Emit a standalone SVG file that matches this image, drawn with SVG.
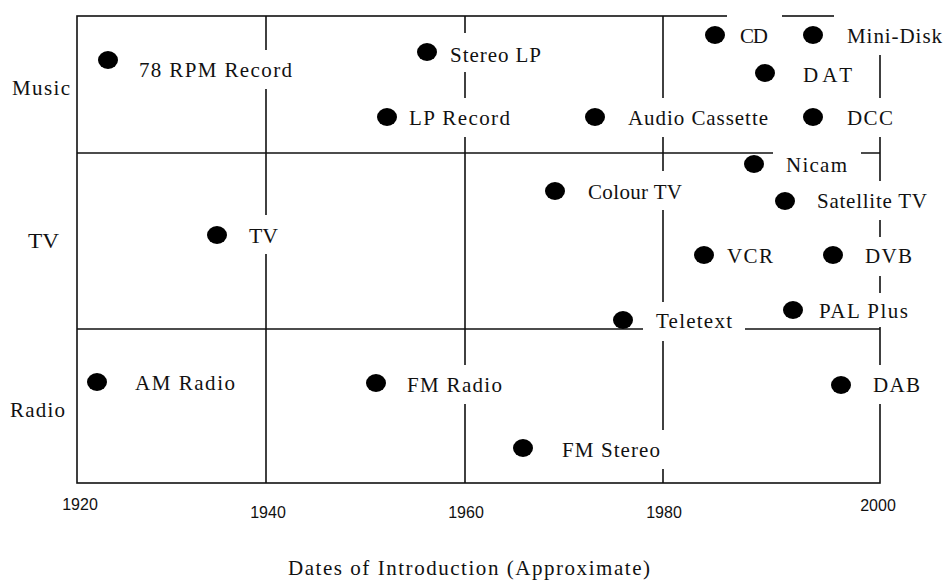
<svg xmlns="http://www.w3.org/2000/svg" width="945" height="582" viewBox="0 0 945 582">
<style>
.grid{stroke:#111;stroke-width:1.6;fill:none}
.box{fill:#fff;stroke:none}
.dot{fill:#000}
.lbl{font-family:"Liberation Serif","Times New Roman",serif;font-size:21px;fill:#111}
.yr{font-family:"Liberation Sans",Arial,sans-serif;font-size:16px;fill:#111}
.ttl{font-family:"Liberation Serif","Times New Roman",serif;font-size:21px;fill:#111}
</style>
<rect width="945" height="582" fill="#fff"/>
<g id="grid" class="grid">
<rect x="77" y="16" width="803" height="467"/>
<line x1="77" y1="153" x2="880" y2="153"/>
<line x1="77" y1="329" x2="880" y2="329"/>
<line x1="266" y1="16" x2="266" y2="483"/>
<line x1="465" y1="16" x2="465" y2="483"/>
<line x1="663" y1="16" x2="663" y2="483"/>
</g>
<g id="rows" class="lbl">
<text x="12" y="95" textLength="58" lengthAdjust="spacing">Music</text>
<text x="28" y="248" textLength="31" lengthAdjust="spacingAndGlyphs">TV</text>
<text x="10" y="417" textLength="55" lengthAdjust="spacing">Radio</text>
</g>
<g id="axis" class="yr">
<text x="80" y="510" text-anchor="middle">1920</text>
<text x="268" y="518" text-anchor="middle">1940</text>
<text x="466" y="518" text-anchor="middle">1960</text>
<text x="664" y="518" text-anchor="middle">1980</text>
<text x="878" y="511" text-anchor="middle">2000</text>
</g>
<text id="title" class="ttl" x="288" y="575" textLength="362" lengthAdjust="spacing">Dates of Introduction (Approximate)</text>

<g id="n78rpm"><rect class="box" x="126" y="50" width="179" height="39"/><text class="lbl" x="139" y="77" textLength="153" lengthAdjust="spacing">78 RPM Record</text><ellipse class="dot" cx="108" cy="60" rx="10" ry="9"/></g>
<g id="stereolp"><rect class="box" x="437" y="33" width="117" height="39"/><text class="lbl" x="450" y="62" textLength="91" lengthAdjust="spacing">Stereo LP</text><ellipse class="dot" cx="427" cy="52" rx="10" ry="9"/></g>
<g id="lprecord"><rect class="box" x="396" y="98" width="127" height="39"/><text class="lbl" x="409" y="125" textLength="101" lengthAdjust="spacing">LP Record</text><ellipse class="dot" cx="387" cy="117" rx="10" ry="9"/></g>
<g id="audiocassette"><rect class="box" x="615" y="98" width="166" height="39"/><text class="lbl" x="628" y="125" textLength="140" lengthAdjust="spacing">Audio Cassette</text><ellipse class="dot" cx="595" cy="117" rx="10" ry="9"/></g>
<g id="cd"><rect class="box" x="727" y="15" width="55" height="40"/><text class="lbl" x="740" y="43" textLength="28" lengthAdjust="spacing">CD</text><ellipse class="dot" cx="715" cy="35" rx="10" ry="9"/></g>
<g id="minidisk"><rect class="box" x="834" y="15" width="111" height="40"/><text class="lbl" x="847" y="43" textLength="95" lengthAdjust="spacing">Mini-Disk</text><ellipse class="dot" cx="813" cy="35" rx="10" ry="9"/></g>
<g id="dat"><rect class="box" x="790" y="55" width="75" height="39"/><text class="lbl" x="803" y="82" textLength="49" lengthAdjust="spacing">DAT</text><ellipse class="dot" cx="765" cy="73" rx="10" ry="9"/></g>
<g id="dcc"><rect class="box" x="834" y="98" width="72" height="39"/><text class="lbl" x="847" y="125" textLength="46" lengthAdjust="spacing">DCC</text><ellipse class="dot" cx="813" cy="117" rx="10" ry="9"/></g>
<g id="nicam"><rect class="box" x="773" y="145" width="88" height="39"/><text class="lbl" x="786" y="172" textLength="61" lengthAdjust="spacing">Nicam</text><ellipse class="dot" cx="754" cy="164" rx="10" ry="9"/></g>
<g id="colourtv"><rect class="box" x="575" y="171" width="120" height="39"/><text class="lbl" x="588" y="199" textLength="94" lengthAdjust="spacing">Colour TV</text><ellipse class="dot" cx="555" cy="191" rx="10" ry="9"/></g>
<g id="satellitetv"><rect class="box" x="804" y="181" width="136" height="39"/><text class="lbl" x="817" y="208" textLength="110" lengthAdjust="spacing">Satellite TV</text><ellipse class="dot" cx="785" cy="201" rx="10" ry="9"/></g>
<g id="tv"><rect class="box" x="236" y="215" width="55" height="39"/><text class="lbl" x="249" y="243" textLength="29" lengthAdjust="spacingAndGlyphs">TV</text><ellipse class="dot" cx="217" cy="235" rx="10" ry="9"/></g>
<g id="vcr"><rect class="box" x="714" y="236" width="72" height="39"/><text class="lbl" x="727" y="263" textLength="46" lengthAdjust="spacing">VCR</text><ellipse class="dot" cx="704" cy="255" rx="10" ry="9"/></g>
<g id="dvb"><rect class="box" x="852" y="237" width="73" height="39"/><text class="lbl" x="865" y="263" textLength="47" lengthAdjust="spacing">DVB</text><ellipse class="dot" cx="833" cy="255" rx="10" ry="9"/></g>
<g id="palplus"><rect class="box" x="806" y="293" width="115" height="34"/><text class="lbl" x="819" y="318" textLength="89" lengthAdjust="spacing">PAL Plus</text><ellipse class="dot" cx="793" cy="310" rx="10" ry="9"/></g>
<g id="teletext"><rect class="box" x="643" y="302" width="102" height="39"/><text class="lbl" x="656" y="328" textLength="76" lengthAdjust="spacing">Teletext</text><ellipse class="dot" cx="623" cy="320" rx="10" ry="9"/></g>
<g id="amradio"><rect class="box" x="122" y="364" width="126" height="39"/><text class="lbl" x="135" y="390" textLength="100" lengthAdjust="spacing">AM Radio</text><ellipse class="dot" cx="97" cy="382" rx="10" ry="9"/></g>
<g id="fmradio"><rect class="box" x="394" y="365" width="121" height="39"/><text class="lbl" x="407" y="392" textLength="95" lengthAdjust="spacing">FM Radio</text><ellipse class="dot" cx="376" cy="383" rx="10" ry="9"/></g>
<g id="dab"><rect class="box" x="860" y="365" width="73" height="39"/><text class="lbl" x="873" y="392" textLength="47" lengthAdjust="spacing">DAB</text><ellipse class="dot" cx="841" cy="385" rx="10" ry="9"/></g>
<g id="fmstereo"><rect class="box" x="549" y="430" width="124" height="39"/><text class="lbl" x="562" y="457" textLength="98" lengthAdjust="spacing">FM Stereo</text><ellipse class="dot" cx="523" cy="448" rx="10" ry="9"/></g>
</svg>
